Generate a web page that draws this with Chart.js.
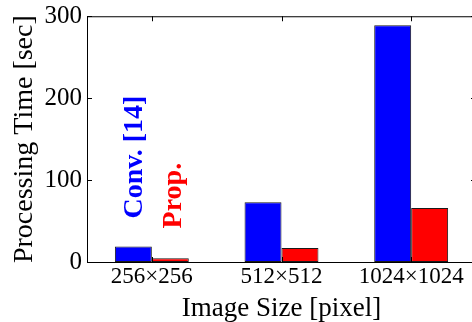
<!DOCTYPE html>
<html>
<head>
<meta charset="utf-8">
<script src="https://cdn.jsdelivr.net/npm/chart.js@4.4.0/dist/chart.umd.min.js"></script>
<style>
  html, body { margin: 0; padding: 0; background: #fff; overflow: hidden; }
  #wrap { position: relative; width: 478px; height: 322px; }
</style>
</head>
<body>
<div id="wrap"><canvas id="chart" width="478" height="322"></canvas></div>
<script>
// data
const imageSizes = ['256\u00d7256', '512\u00d7512', '1024\u00d71024']
const convTimes = [19, 73, 289]
const propTimes = [4.5, 17, 66]
const yTicks = [0, 100, 200, 300]

const serif = "'Liberation Serif', 'DejaVu Serif', serif"

//FRAME, INWARD TICKS AND ROTATED LABELS
const framePlugin = {
  id: 'frame',
  afterDraw(chart) {
    const { ctx, chartArea: a, scales } = chart
    ctx.save()
    ctx.strokeStyle = '#000'
    ctx.lineWidth = 1
    ctx.strokeRect(a.left + 0.5, a.top + 0.5, a.right - a.left, a.bottom - a.top)

    // inward tick marks, MATLAB style
    ctx.beginPath()
    yTicks.forEach(v => {
      const y = Math.round(scales.y.getPixelForValue(v)) + 0.5
      ctx.moveTo(a.left, y); ctx.lineTo(a.left + 5, y)
      ctx.moveTo(a.right, y); ctx.lineTo(a.right - 5, y)
    })
    imageSizes.forEach((s, i) => {
      const x = Math.round(scales.x.getPixelForValue(i)) + 0.5
      ctx.moveTo(x, a.top); ctx.lineTo(x, a.top + 5)
      ctx.moveTo(x, a.bottom); ctx.lineTo(x, a.bottom - 5)
    })
    ctx.stroke()

    // legend-like rotated labels
    const drawRot = (text, color, xPix, yVal) => {
      ctx.save()
      ctx.translate(xPix, scales.y.getPixelForValue(yVal))
      ctx.rotate(-Math.PI / 2)
      ctx.font = 'bold 28px ' + serif
      ctx.fillStyle = color
      ctx.textAlign = 'center'
      ctx.textBaseline = 'middle'
      ctx.fillText(text, 0, 0)
      ctx.restore()
    }
    const x0 = scales.x.getPixelForValue(0)
    drawRot('Conv. [14]', '#0000ff', x0 - 17, 128)
    drawRot('Prop.', '#ff0000', x0 + 22, 81)
    ctx.restore()
  }
}

function handleBarChart() {
  const cvs = document.getElementById('chart')

  let dados = {
    labels: imageSizes,
    datasets: [{
      label: 'Conv. [14]',
      data: convTimes,
      backgroundColor: '#0000ff',
      borderColor: '#1a1a1a',
      borderWidth: 1,
      borderSkipped: false,
      barPercentage: 1,
      categoryPercentage: 0.57
    }, {
      label: 'Prop.',
      data: propTimes,
      backgroundColor: '#ff0000',
      borderColor: '#1a1a1a',
      borderWidth: 1,
      borderSkipped: false,
      barPercentage: 1,
      categoryPercentage: 0.57
    }]
  }

  let options = {
    responsive: false,
    animation: false,
    layout: { padding: { top: 13, right: 2, left: 0, bottom: 0 } },
    plugins: {
      legend: { display: false },
      tooltip: { enabled: false }
    },
    scales: {
      x: {
        grid: { display: false, tickLength: 0 },
        border: { display: false },
        ticks: { color: '#000', font: { family: serif, size: 23 }, padding: 1, maxRotation: 0 },
        title: {
          display: true, text: 'Image Size [pixel]', color: '#000',
          font: { family: serif, size: 27, lineHeight: 1 }, padding: { top: 0, bottom: 0 }
        },
        afterFit: s => { s.height = 60 }
      },
      y: {
        min: 0, max: 300,
        grid: { display: false, tickLength: 0 },
        border: { display: false },
        ticks: { color: '#000', font: { family: serif, size: 25, lineHeight: 0.9 }, padding: 5, stepSize: 100 },
        title: {
          display: true, text: 'Processing Time [sec]', color: '#000',
          font: { family: serif, size: 28 }, padding: { top: 8, bottom: 0 }
        },
        afterFit: s => { s.width = 87 }
      }
    }
  }

  new Chart(cvs, { type: 'bar', data: dados, options: options, plugins: [framePlugin] })
}

document.addEventListener('DOMContentLoaded', () => {
  handleBarChart()
})
</script>
</body>
</html>
